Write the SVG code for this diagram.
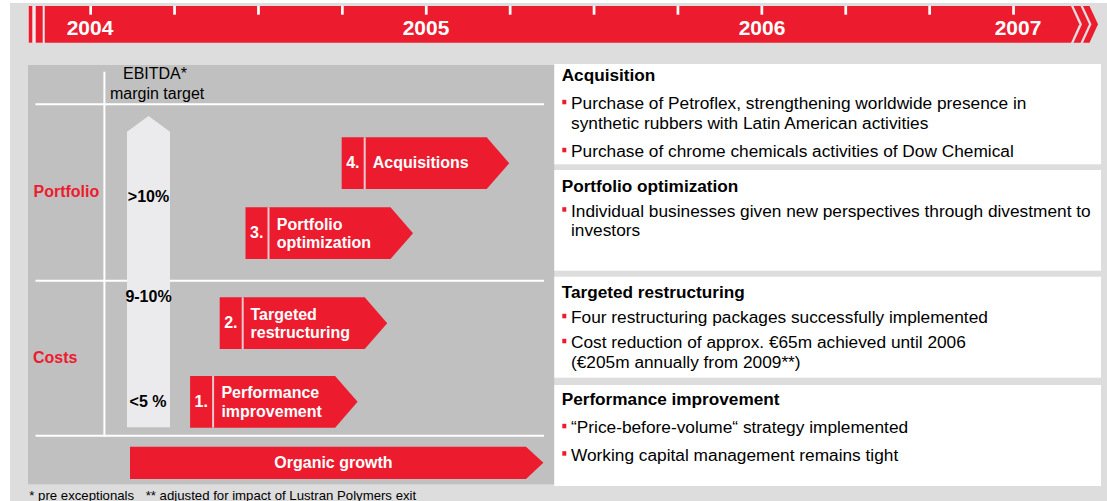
<svg xmlns="http://www.w3.org/2000/svg" xmlns:xlink="http://www.w3.org/1999/xlink" width="1107" height="501" viewBox="0 0 1107 501">
<style>
text{font-family:"Liberation Sans",Arial,Helvetica,sans-serif}
.red{fill:#ED1B2E}
.yr{font-size:21px;font-weight:bold;fill:#fff;text-anchor:middle}
.lbl{font-size:16px;font-weight:bold;fill:#fff}
.side{font-size:16px;font-weight:bold;fill:#ED1B2E}
.pct{font-size:16px;font-weight:bold;fill:#000;text-anchor:middle}
.ebit{font-size:16px;fill:#000}
.hd{font-size:17.2px;font-weight:bold;fill:#000}
.bd{font-size:17.3px;fill:#000}
.box{fill:#fff}
.grid{stroke:#fff;stroke-width:2;fill:none}
.sep{stroke:#EBC9CC;stroke-width:2}
.tick{fill:#fff}
.foot{font-size:13.2px;fill:#000}
</style>
<defs>
<g id="stepArrow">
<path class="red" d="M0,0 H145 L167.5,25.85 L145,51.7 H0 Z"/>
<line class="sep" x1="23" y1="0" x2="23" y2="51.7"/>
</g>
<rect id="bul" width="4" height="4.5" class="red"/>
</defs>

<rect x="0" y="0" width="1107" height="501" fill="#fff"/>
<rect x="10" y="3" width="1097" height="498" fill="#DDDDDD"/>

<g id="timeline">
<rect x="28" y="6" width="18" height="36.7" fill="#ECECEC"/>
<rect class="red" x="28.7" y="6" width="3.6" height="36.7"/>
<rect class="red" x="35.7" y="6" width="7" height="36.7"/>
<path class="red" d="M44.7,6 H1071 L1079.3,24.35 L1071,42.7 H44.7 Z"/>
<path class="red" d="M1073.5,6 H1080.5 L1089,24.35 L1080.5,42.7 H1073.5 L1082,24.35 Z"/>
<path class="red" d="M1083,6 H1089.5 L1098,24.35 L1089.5,42.7 H1083 L1091.5,24.35 Z"/>
<rect class="tick" x="89.3" y="6" width="2.7" height="8.7"/>
<rect class="tick" x="173.2" y="6" width="2.7" height="8.7"/>
<rect class="tick" x="257.1" y="6" width="2.7" height="8.7"/>
<rect class="tick" x="341" y="6" width="2.7" height="8.7"/>
<rect class="tick" x="424.9" y="6" width="2.7" height="8.7"/>
<rect class="tick" x="508.8" y="6" width="2.7" height="8.7"/>
<rect class="tick" x="592.7" y="6" width="2.7" height="8.7"/>
<rect class="tick" x="676.6" y="6" width="2.7" height="8.7"/>
<rect class="tick" x="760.5" y="6" width="2.7" height="8.7"/>
<rect class="tick" x="844.4" y="6" width="2.7" height="8.7"/>
<rect class="tick" x="928.3" y="6" width="2.7" height="8.7"/>
<rect class="tick" x="1012.2" y="6" width="2.7" height="8.7"/>
<text class="yr" x="90" y="35">2004</text>
<text class="yr" x="426" y="35">2005</text>
<text class="yr" x="762" y="35">2006</text>
<text class="yr" x="1018" y="35">2007</text>
</g>

<g id="panel">
<rect x="28" y="65" width="526.3" height="419.3" fill="#C0C0C0"/>
</g>

<g id="gridlines">
<line class="grid" x1="35.5" y1="104.3" x2="544" y2="104.3"/>
<line class="grid" x1="35.5" y1="280.7" x2="544" y2="280.7"/>
<line class="grid" x1="35.5" y1="435.7" x2="544" y2="435.7"/>
<line class="grid" x1="104.4" y1="71.7" x2="104.4" y2="436.7"/>
</g>

<g id="labels-left">
<text class="side" x="33.5" y="196.7">Portfolio</text>
<text class="side" x="33" y="363.3">Costs</text>
</g>

<g id="ebitda">
<text class="ebit" x="155" y="79.3" text-anchor="middle">EBITDA*</text>
<text class="ebit" x="110" y="99">margin target</text>
<path d="M127,131.7 L148.5,116 L170,131.7 V427.3 H127 Z" fill="#EBEBED"/>
<text class="pct" x="148.5" y="201.7">&gt;10%</text>
<text class="pct" x="148.5" y="301.7">9-10%</text>
<text class="pct" x="148" y="406.7">&lt;5 %</text>
</g>

<g id="step4">
<use xlink:href="#stepArrow" href="#stepArrow" transform="translate(341.7,137.3)"/>
<text class="lbl" x="346.2" y="168.4">4.</text>
<text class="lbl" x="372.7" y="168.4">Acquisitions</text>
</g>
<g id="step3">
<use xlink:href="#stepArrow" href="#stepArrow" transform="translate(245.5,207.3)"/>
<text class="lbl" x="250" y="238.4">3.</text>
<text class="lbl" x="276.8" y="230">Portfolio</text>
<text class="lbl" x="276.8" y="248.3">optimization</text>
</g>
<g id="step2">
<use xlink:href="#stepArrow" href="#stepArrow" transform="translate(219.7,297.3)"/>
<text class="lbl" x="224.2" y="328.4">2.</text>
<text class="lbl" x="250.5" y="320">Targeted</text>
<text class="lbl" x="250.5" y="338.3">restructuring</text>
</g>
<g id="step1">
<use xlink:href="#stepArrow" href="#stepArrow" transform="translate(190.1,376)"/>
<text class="lbl" x="194.6" y="407">1.</text>
<text class="lbl" x="221.4" y="398.3">Performance</text>
<text class="lbl" x="221.4" y="416.7">improvement</text>
</g>

<g id="organic">
<path class="red" d="M130,446.7 H526 L543.4,462.85 L526,479 H130 Z"/>
<text class="lbl" x="333.4" y="468" text-anchor="middle">Organic growth</text>
</g>

<g id="box-acquisition">
<rect class="box" x="554.3" y="64" width="546.7" height="100.3"/>
<text class="hd" x="561.7" y="80.7">Acquisition</text>
<use xlink:href="#bul" href="#bul" x="562.3" y="99.8"/>
<text class="bd" x="571" y="109.3">Purchase of Petroflex, strengthening worldwide presence in</text>
<text class="bd" x="571" y="129.3">synthetic rubbers with Latin American activities</text>
<use xlink:href="#bul" href="#bul" x="562.3" y="147.8"/>
<text class="bd" x="571" y="157.3">Purchase of chrome chemicals activities of Dow Chemical</text>
</g>

<g id="box-portfolio">
<rect class="box" x="554.3" y="170" width="546.7" height="100.7"/>
<text class="hd" x="561.7" y="191.7">Portfolio optimization</text>
<use xlink:href="#bul" href="#bul" x="562.3" y="207.2"/>
<text class="bd" x="571" y="216.7">Individual businesses given new perspectives through divestment to</text>
<text class="bd" x="571" y="235.7">investors</text>
</g>

<g id="box-restructuring">
<rect class="box" x="554.3" y="276.7" width="546.7" height="101"/>
<text class="hd" x="561.7" y="298.3">Targeted restructuring</text>
<use xlink:href="#bul" href="#bul" x="562.3" y="313.8"/>
<text class="bd" x="571" y="323.3">Four restructuring packages successfully implemented</text>
<use xlink:href="#bul" href="#bul" x="562.3" y="338.8"/>
<text class="bd" x="571" y="348.3">Cost reduction of approx. €65m achieved until 2006</text>
<text class="bd" x="571" y="368.3">(€205m annually from 2009**)</text>
</g>

<g id="box-performance">
<rect class="box" x="554.3" y="385" width="546.7" height="101"/>
<text class="hd" x="561.7" y="405.3">Performance improvement</text>
<use xlink:href="#bul" href="#bul" x="562.3" y="423.8"/>
<text class="bd" x="571" y="433.3">“Price-before-volume“ strategy implemented</text>
<use xlink:href="#bul" href="#bul" x="562.3" y="451.2"/>
<text class="bd" x="571" y="460.7">Working capital management remains tight</text>
</g>

<g id="footnote">
<text class="foot" y="499.5"><tspan x="29.3">* pre exceptionals</tspan><tspan x="145.7">** adjusted for impact of Lustran Polymers exit</tspan></text>
</g>
</svg>
